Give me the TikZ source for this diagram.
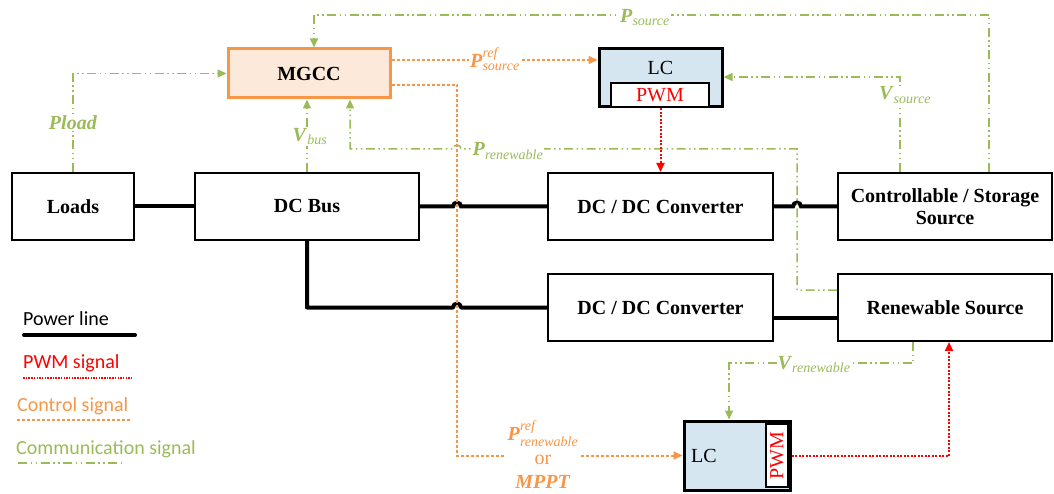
\documentclass[tikz,border=0pt]{standalone}
\usepackage{amsmath}
\usepackage{fontspec}
\setmainfont{Liberation Serif}
\newfontfamily\legfont{Carlito}
\usetikzlibrary{arrows.meta,calc}
\definecolor{cgreen}{RGB}{155,187,89}
\definecolor{corange}{RGB}{247,150,70}
\definecolor{mgccfill}{RGB}{253,233,217}
\definecolor{lcfill}{RGB}{214,230,240}
\definecolor{cred}{RGB}{255,0,0}
\begin{document}
\begin{tikzpicture}[x=1pt,y=-1pt,
  box/.style={draw=black,line width=2pt,fill=white,inner sep=0pt,align=center,
    font=\fontsize{20}{23}\selectfont\bfseries},
  power/.style={draw=black,line width=4pt},
  comm/.style={draw=cgreen,line width=1.5pt,dash pattern=on 9pt off 3.5pt on 1.5pt off 3.5pt on 1.5pt off 3.5pt},
  ctl/.style={draw=corange,line width=2pt,dash pattern=on 3pt off 2pt},
  pwm/.style={draw=cred,line width=2pt,dash pattern=on 2pt off 1.5pt},
  tip/.style={-{Triangle[length=9pt,width=8pt]}},
  lbl/.style={fill=white,inner sep=1pt,anchor=base,font=\fontsize{20}{24}\selectfont},
  leg/.style={anchor=base west,inner sep=0pt,font=\legfont\fontsize{20}{24}\selectfont}
]
\useasboundingbox (0,0) rectangle (1054,494);

% boxes
\node[box,minimum width=122pt,minimum height=67pt] (loads) at (73,206.5) {Loads};
\node[box,minimum width=224pt,minimum height=67pt] (dcbus) at (307,206.5) {DC Bus};
\node[box,minimum width=225pt,minimum height=67pt] (conv1) at (660.5,206.5) {DC / DC Converter};
\node[box,minimum width=214pt,minimum height=67pt] (ctrl) at (945,206.5) {Controllable / Storage\\[-1pt]Source};
\node[box,minimum width=225pt,minimum height=67pt] (conv2) at (660.5,307.5) {DC / DC Converter};
\node[box,minimum width=214pt,minimum height=67pt] (ren) at (945,307.5) {Renewable Source};

\node[draw=corange,fill=mgccfill,line width=3pt,inner sep=0pt,minimum width=162pt,minimum height=49pt,
  font=\fontsize{20}{23}\selectfont\bfseries] (mgcc) at (309,73.5) {MGCC};

\node[draw=black,fill=lcfill,line width=3pt,inner sep=0pt,minimum width=123pt,minimum height=58pt] (lc1) at (660.5,78) {};
\node[inner sep=0pt,font=\fontsize{20}{23}\selectfont] (lc1t) at (660.5,68) {LC};
\node[draw=black,fill=white,line width=2.5pt,inner sep=0pt,minimum width=98pt,minimum height=24pt,
  text=cred,font=\fontsize{20}{23}\selectfont] (pwm1) at (660,95) {PWM};

\node[draw=black,fill=lcfill,line width=3pt,inner sep=0pt,minimum width=106pt,minimum height=69pt] (lc2) at (737,455.5) {};
\node[inner sep=0pt,font=\fontsize{20}{23}\selectfont] (lc2t) at (704,455.5) {LC};
\node[draw=black,fill=white,line width=2pt,inner sep=0pt,minimum width=22pt,minimum height=63pt] (pwm2) at (777,455.5) {};
\node[rotate=90,inner sep=0pt,text=cred,font=\fontsize{20}{23}\selectfont] (pwm2t) at (pwm2) {PWM};

% helper coordinates
\coordinate (ox) at (457,85);
\coordinate (gx) at (797,149);
\coordinate (prin) at ([xshift=41pt]mgcc.south);

% power lines
\draw[power] (loads.east) -- (dcbus.west);
\draw[power] (dcbus.east) -- ($(ox |- dcbus.east)+(-4,0)$) arc[start angle=180,end angle=0,radius=4pt] -- (conv1.west);
\draw[power] (conv1.east) -- ($(gx |- conv1.east)+(-4,0)$) arc[start angle=180,end angle=0,radius=4pt] -- (ctrl.west);
\draw[power,line join=round] (dcbus.south) |- ($(ox |- conv2.west)+(-4,0)$) arc[start angle=180,end angle=0,radius=4pt] -- (conv2.west);
\draw[power] ([yshift=-10.5pt]conv2.east) -- ([yshift=-10.5pt]ren.west);

% communication signals
\draw[comm,tip] (loads.north) |- (mgcc.west);
\draw[comm,tip] (dcbus.north) -- (dcbus.north |- mgcc.south);
\draw[comm,tip] ([yshift=17.5pt]ren.west) -- ($(gx |- ren.west)+(0,-17.5)$) -- (gx)
  -- ($(gx -| ox)+(4,0)$) arc[start angle=0,end angle=180,radius=4pt] -- (prin |- gx) -- (prin);
\draw[comm,tip] ([xshift=44pt]ctrl.north) -- ++(0,-157) -| ([xshift=5pt]mgcc.north);
\draw[comm,tip] ([xshift=-45pt]ctrl.north) |- ([yshift=1pt]lc1.east);
\draw[comm,tip] ([xshift=-32pt]ren.south) -- ++(0,21) -| ([xshift=-8pt]lc2.north);

% control signals
\draw[ctl,tip] ([yshift=13.5pt]mgcc.east) -- ([yshift=13.5pt]mgcc.east -| lc1.west);
\draw[ctl,tip] ([yshift=-11.5pt]mgcc.east) -| (ox |- lc2.west) -- (lc2.west);

% PWM signals
\draw[pwm,tip] (lc1.south) -- (conv1.north);
\draw[pwm,tip] (lc2.east) -| ([xshift=4pt]ren.south);

% labels
\node[lbl,text=cgreen] (lpload) at (73,130) {\textbf{\textit{Pload}}};
\node[lbl,text=cgreen] (lvbus) at (310,141.5) {$\textbf{\textit{V}}_{\textit{bus}}$};
\node[lbl,text=cgreen] (lpren) at (508,156) {$\textbf{\textit{P}}_{\textit{renewable}}$};
\node[lbl,text=cgreen] (lpsrc) at (645,22.5) {$\textbf{\textit{P}}_{\textit{source}}$};
\node[lbl,text=cgreen] (lvsrc) at (905,100) {$\textbf{\textit{V}}_{\textit{source}}$};
\node[lbl,text=cgreen] (lvren) at (814,369) {$\textbf{\textit{V}}_{\textit{renewable}}$};
\node[lbl,text=corange] (lpref) at (495,67.5) {$\textbf{\textit{P}}^{\textit{ref}}_{\textit{source}}$};
\node[fill=white,inner sep=2pt,align=center,text=corange,font=\fontsize{20}{24}\selectfont] (lmppt) at (543,455)
  {$\textbf{\textit{P}}^{\textit{ref}}_{\textit{renewable}}$\\or\\\textbf{\textit{MPPT}}};

% legend
\node[leg] (lg1) at (23,325) {Power line};
\coordinate (l1a) at (24,335); \coordinate (l1b) at (135,335);
\draw[power,line cap=round] (l1a) -- (l1b);
\node[leg,text=cred] (lg2) at (23,368) {PWM signal};
\coordinate (l2a) at (23,378); \coordinate (l2b) at (132,378);
\draw[pwm,line width=1.5pt,dash pattern=on 1.5pt off 1.2pt] (l2a) -- (l2b);
\node[leg,text=corange] (lg3) at (17,411) {Control signal};
\coordinate (l3a) at (17,420); \coordinate (l3b) at (130,420);
\draw[ctl] (l3a) -- (l3b);
\node[leg,text=cgreen] (lg4) at (16,454) {Communication signal};
\coordinate (l4a) at (18,463); \coordinate (l4b) at (125,463);
\draw[comm] (l4a) -- (l4b);
\end{tikzpicture}
\end{document}
